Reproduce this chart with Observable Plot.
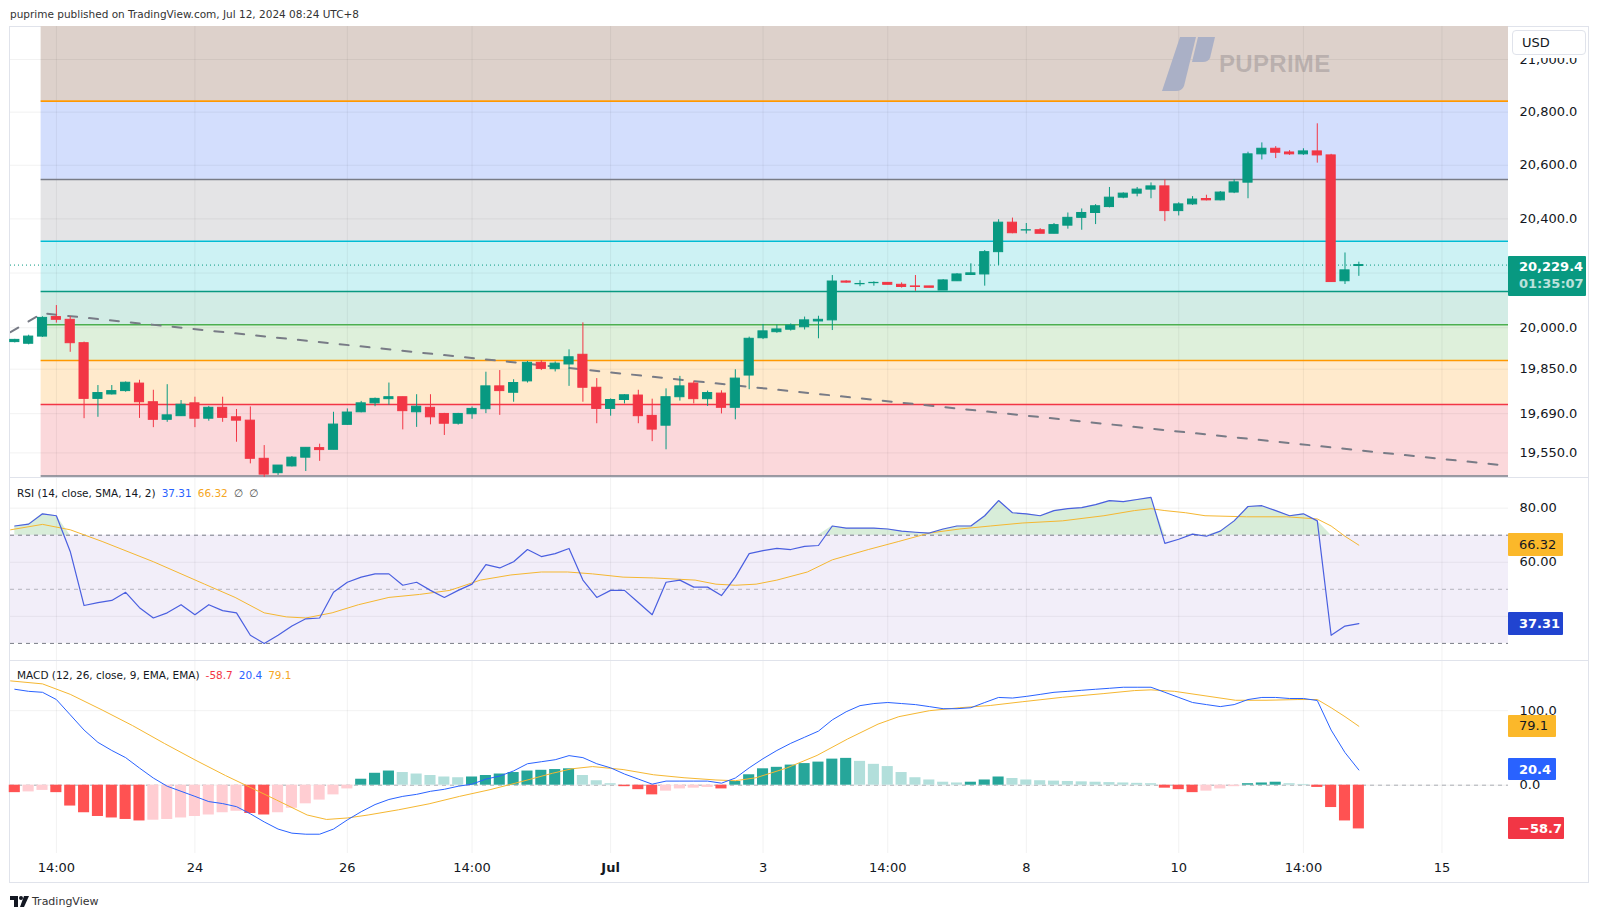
<!DOCTYPE html>
<html><head><meta charset="utf-8">
<script src="https://cdn.jsdelivr.net/npm/d3@7"></script>
<script src="https://cdn.jsdelivr.net/npm/@observablehq/plot@0.6"></script>
<style>
body{margin:0;background:#fff;}
#root{position:relative;width:1600px;height:919px;overflow:hidden;font-family:"DejaVu Sans",sans-serif;color:#131722;}
.abs{position:absolute;}
.box{position:absolute;box-sizing:border-box;font-size:13px;line-height:1;display:flex;flex-direction:column;justify-content:center;padding-left:11px;border-radius:1px;white-space:nowrap;}
.hdr{position:absolute;font-size:10.5px;white-space:nowrap;color:#131722;}
.hdr span{margin-right:6px;}
</style></head><body><div id="root"></div><script>
// ---------------- DATA ----------------
const opens  = [19948,19942,19968,20039,20029,19944,19743,19759,19771,19798,19731,19668,19681,19727,19672,19711,19677,19665,19529,19478,19502,19533,19567,19561,19650,19695,19727,19742,19749,19695,19711,19689,19654,19688,19706,19788,19765,19806,19873,19850,19867,19902,19783,19707,19739,19755,19682,19647,19749,19798,19742,19762,19711,19827,19962,19984,19993,20002,20023,20027,20169,20159,20163,20164,20157,20151,20151,20136,20170,20193,20195,20277,20386,20357,20358,20345,20375,20404,20422,20444,20479,20494,20509,20521,20429,20454,20474,20469,20498,20535,20641,20662,20648,20641,20652,20637,20170,20226];
const highs  = [19958,19973,20040,20081,20041,19948,19791,19791,19804,19810,19774,19794,19737,19749,19716,19749,19705,19714,19576,19505,19537,19568,19581,19695,19707,19734,19746,19800,19749,19758,19758,19691,19691,19714,19839,19845,19812,19878,19881,19876,19920,20018,19816,19743,19758,19774,19742,19779,19824,19807,19771,19772,19848,19966,20012,20010,20014,20039,20042,20191,20172,20172,20168,20165,20164,20191,20151,20176,20198,20234,20283,20397,20403,20383,20364,20383,20422,20437,20453,20517,20497,20517,20534,20545,20460,20483,20488,20502,20546,20649,20684,20670,20655,20662,20756,20641,20274,20240];
const lows   = [19945,19938,19965,20017,19911,19672,19677,19757,19767,19673,19640,19659,19680,19640,19663,19659,19588,19511,19463,19470,19500,19484,19520,19561,19648,19693,19715,19720,19632,19641,19650,19612,19649,19670,19690,19684,19731,19800,19845,19840,19788,19731,19654,19681,19725,19654,19590,19561,19735,19725,19716,19689,19668,19776,19957,19980,19988,19992,19960,19990,20163,20150,20152,20157,20145,20133,20146,20136,20169,20191,20152,20228,20345,20344,20345,20345,20362,20358,20379,20441,20475,20482,20475,20390,20411,20450,20467,20467,20494,20475,20620,20625,20637,20637,20608,20166,20158,20188];
const closes = [19956,19968,20036,20029,19944,19743,19764,19771,19801,19731,19668,19684,19722,19672,19711,19675,19665,19529,19473,19505,19533,19568,19560,19651,19694,19727,19743,19749,19699,19715,19677,19654,19689,19707,19788,19771,19800,19873,19851,19870,19893,19783,19707,19739,19756,19681,19633,19749,19788,19742,19764,19711,19816,19960,19987,19994,20008,20027,20029,20169,20165,20160,20164,20157,20149,20149,20146,20173,20195,20199,20277,20386,20347,20358,20345,20377,20404,20422,20447,20479,20494,20509,20521,20429,20454,20472,20469,20498,20536,20641,20662,20647,20641,20652,20637,20167,20210,20229.4];
const lastPrice = 20229.4;
const countdown = "01:35:07";

const fibLevels = [20841.6,20547,20317.5,20132.5,20011,19881.4,19723,19468];
const fibStart = 1.9;
const trendIdx = [-0.31,1.98,107.8];
const trendVal = [19984,20053,19504];

const rsi = [73.4,74.1,77.9,77.2,64.0,44.0,45.1,45.9,48.9,43.2,39.4,41.3,44.3,40.6,44.3,42.1,41.3,33.0,30.0,33.0,36.4,39.1,39.4,48.9,52.6,54.5,55.7,55.7,51.5,52.6,49.6,47.0,49.6,51.9,59.1,57.9,60.2,64.7,62.1,63.2,65.1,53.4,47.0,49.6,49.6,45.1,40.6,52.6,53.4,50.8,50.8,47.7,54.5,63.2,64.3,65.1,64.7,65.9,66.2,73.4,72.6,72.6,72.6,72.3,71.5,71.1,70.8,72.3,73.4,73.4,77.2,82.8,78.3,77.9,77.2,79.1,79.8,80.2,81.3,82.8,82.4,83.2,84.0,67.0,68.5,70.4,69.6,71.5,75.3,80.6,80.9,79.1,77.2,77.9,75.3,33.0,36.4,37.31];
const rsiSmaIdx = [-0.3,2,4,6.3,10,13.7,15.9,18,19.6,21,22.9,24.8,27,29.2,31.4,33.6,35.8,38,39.9,41.7,43.9,46.1,49.1,50.6,52,53.5,55,57.2,59,61.6,63.8,66,68.2,70.4,72.7,75.6,78.6,80.8,82,83,84.5,85.9,88.9,91.8,94,95,96,97];
const rsiSmaVal = [72,74,72,67.7,60.2,51.9,47,41.3,39.8,39.4,41.3,44.3,47,48.1,49.6,53.4,55.3,56.4,56.4,55.7,54.5,54.2,53.4,51.9,51.5,51.9,53.4,56.4,60.9,64.7,67.7,70.8,72.3,73.4,74.5,75.3,77.2,79.1,79.8,79.1,78.3,77.2,76.8,76.8,76,73.4,69.6,66.32];
const rsiLast = 37.31, rsiSmaLast = 66.32;

const macd = [128.8,126,124.7,115,94.5,74,57.5,46.6,37,23,9.6,-1.4,-8.2,-15,-22,-24.7,-28.8,-38.4,-49.3,-58.9,-64.4,-65.8,-65.8,-58.9,-46.6,-35.6,-26,-19.2,-15,-12.3,-8.2,-5.5,-1.4,1.4,8.2,12.3,19.2,28.8,31.5,34.2,39.7,37,28.8,23.3,15,8.2,1.4,5.5,5.5,5.5,5.5,2.7,9.6,23.3,35.6,46.6,56.2,64.4,72.6,87.7,98.6,106.8,109.6,111,109.6,108.2,105.5,102.7,102.7,104,111,117.8,117,119.2,121.9,124.7,126,127.4,128.8,130.1,131.5,131.5,131.5,124.7,117.8,111,108.2,105.5,108.2,115,117.8,117.8,116.4,116.4,113.7,74,43.8,20.4];
const sigIdx = [-0.3,2,4,6.3,8.5,10.8,13,15.2,17,18.9,21.1,22.5,24,25.5,27.7,29.9,32.1,34.3,36.6,38.8,40.2,41.7,43.9,46.1,48.3,50.6,52,53.5,55.7,57.9,60.1,62.3,63.8,66,68.2,70.4,72.7,75.6,78.6,80.8,82,83.7,85.9,88.1,90.3,92.6,94,95,96,97];
const sigVal = [140,136,122,101,80,56,34,13,-3,-20,-40,-46,-44,-40,-33,-25,-15,-6,5,16,22,25,21,14,10,7,6,10,23,40,62,82,92,100,104,107,112,118,123,127,128,126,120,114,114,115,115,104,92,79.1];
const hist = [-10,-9,-7,-10,-28,-37,-42,-44,-46,-48,-47,-46,-44,-42,-40,-37,-35,-38,-40,-37,-31,-25,-20,-13,-5,8,16,19,17,15,13,11,10,11,13,15,17,19,20,21,22,13,6,2,-2,-6,-13,-8,-5,-4,-3,-5,5,14,22,24,27,29,31,35,36,32,28,25,17,10,7,4,3,4,7,11,9,7,6,5.5,5,4.5,4,3.5,3,2.5,2,-4,-6,-10,-8,-5,-2,2,3,4,2,1,-3,-30,-48,-58.7];

const priceTicks = [21000,20800,20600,20400,20200,20000,19850,19690,19550];
const priceLabelTicks = [21000,20800,20600,20400,20000,19850,19690,19550];
const rsiTicks = [80,60,40];
const macdTicks = [100,0];
const xTickIdx = [3,13,24,33,43,54,63,73,84,93,103];
const xTickLabels = ["14:00","24","26","14:00","Jul","3","14:00","8","10","14:00","15"];

// ---------------- STYLE ----------------
const UP = "#089981", DOWN = "#f23645";
const bandFills = ["#ddd1cb","#d3defd","#e4e4e6","#cdf2f4","#d2ece5","#def0db","#ffeacc","#fbd8db"];
const fibStrokes = ["#ff9800","#787b86","#00bcd4","#089981","#4caf50","#ff9800","#f23645","#787b86"];
const RSI_C = "#4a5fe0", SMA_C = "#f5b731", MACD_C = "#2962ff", SIG_C = "#f5b731";
const GRID = {stroke:"#000", strokeOpacity:0.055};

const root = document.getElementById("root");
const N = closes.length;
const idx = d3.range(N);
const XD = [-0.31, 107.8];
const SVGW = 1578, MR = 80, LEFT = 10;
const common = {width: SVGW, marginLeft:0, marginRight:MR, marginTop:0, marginBottom:0,
  x:{type:"linear", domain:XD, axis:null}, color:{type:"identity"},
  style:{background:"transparent", overflow:"visible", fontFamily:"DejaVu Sans", fontSize:"13px", color:"#131722"}};
function place(el, top){ el.style.position="absolute"; el.style.left=LEFT+"px"; el.style.top=top+"px"; root.appendChild(el); return el; }
function div(cls, css, html){ const d=document.createElement("div"); d.className=cls; Object.assign(d.style, css); d.innerHTML=html; root.appendChild(d); return d; }

// frame
div("abs",{left:"9px",top:"26px",width:"1580px",height:"857px",border:"1px solid #e0e3eb",boxSizing:"border-box"},"");

// ---------------- MAIN PANE ----------------
const MT = 26, MH = 451;
const YMAX = 21126.6, YMIN = 19462.7;
const bandIdx = d3.range(fibLevels.length);
const colOf = i => closes[i] >= opens[i] ? UP : DOWN;
const main = Plot.plot({...common, height: MH,
  y:{type:"log", domain:[YMIN, YMAX], axis:null},
  marks:[
    Plot.rect(bandIdx, {x1:fibStart, x2:XD[1], y1:j=>fibLevels[j], y2:j=> j===0 ? YMAX : fibLevels[j-1], fill:j=>bandFills[j]}),
    Plot.gridY(priceTicks, GRID),
    Plot.gridX(xTickIdx, GRID),
    Plot.ruleY(bandIdx, {x1:fibStart, x2:XD[1], y:j=>fibLevels[j], stroke:j=>fibStrokes[j], strokeWidth:1.6}),
    Plot.line(trendIdx.map((d,i)=>i), {x:i=>trendIdx[i], y:i=>trendVal[i], stroke:"#787b86", strokeWidth:2, strokeDasharray:"9,12", clip:true}),
    Plot.ruleY([lastPrice], {stroke:UP, strokeDasharray:"1,3", strokeWidth:1}),
    Plot.ruleX(idx, {x:i=>i, y1:i=>lows[i], y2:i=>highs[i], stroke:colOf, strokeWidth:1}),
    Plot.rect(idx, {x1:i=>i-0.33, x2:i=>i+0.33, y1:i=>opens[i], y2:i=>closes[i], fill:colOf, stroke:colOf, strokeWidth:1}),
    Plot.axisY(priceLabelTicks, {anchor:"right", tickSize:0, tickPadding:11, tickFormat:d3.format(",.1f"), fontSize:13, label:null})
  ]});
place(main, MT);
const ym = main.scale("y");

// ---------------- RSI PANE ----------------
const RT = 477, RH = 183;
const rsiPlot = Plot.plot({...common, height: RH,
  y:{type:"linear", domain:[23.68, 91.33], axis:null},
  marks:[
    Plot.rect([0], {x1:XD[0], x2:XD[1], y1:30, y2:70, fill:"#7e57c2", fillOpacity:0.1}),
    Plot.gridY(rsiTicks, GRID),
    Plot.gridX(xTickIdx, GRID),
    Plot.areaY(idx, {x:i=>i, y1:70, y2:i=>Math.max(70, rsi[i]), fill:"#4caf50", fillOpacity:0.22}),
    Plot.ruleY([70,30], {stroke:"#787b86", strokeDasharray:"4,4"}),
    Plot.ruleY([50], {stroke:"#787b86", strokeOpacity:0.5, strokeDasharray:"4,4"}),
    Plot.line(rsiSmaIdx.map((d,i)=>i), {x:i=>rsiSmaIdx[i], y:i=>rsiSmaVal[i], stroke:SMA_C, strokeWidth:1}),
    Plot.line(idx, {x:i=>i, y:i=>rsi[i], stroke:RSI_C, strokeWidth:1.2}),
    Plot.axisY(rsiTicks, {anchor:"right", tickSize:0, tickPadding:11, tickFormat:d3.format(".2f"), fontSize:13, label:null})
  ]});
place(rsiPlot, RT);
const yr = rsiPlot.scale("y");

// ---------------- MACD PANE ----------------
const CT = 660, CH = 193;
const histCol = i => hist[i] >= 0 ? (i>0 && hist[i] < hist[i-1] ? "#b2dfdb" : "#26a69a") : (i>0 && hist[i] > hist[i-1] ? "#ffcdd2" : "#ff5252");
const macdPlot = Plot.plot({...common, height: CH,
  y:{type:"linear", domain:[-91.7, 167.4], axis:null},
  marks:[
    Plot.gridY(macdTicks, GRID),
    Plot.gridX(xTickIdx, GRID),
    Plot.ruleY([0], {stroke:"#787b86", strokeOpacity:0.6, strokeDasharray:"4,4"}),
    Plot.rect(idx, {x1:i=>i-0.4, x2:i=>i+0.4, y1:0, y2:i=>hist[i], fill:histCol}),
    Plot.line(sigIdx.map((d,i)=>i), {x:i=>sigIdx[i], y:i=>sigVal[i], stroke:SIG_C, strokeWidth:1}),
    Plot.line(idx, {x:i=>i, y:i=>macd[i], stroke:MACD_C, strokeWidth:1}),
    Plot.axisY(macdTicks, {anchor:"right", tickSize:0, tickPadding:11, tickFormat:d3.format(".1f"), fontSize:13, label:null})
  ]});
place(macdPlot, CT);
const yc = macdPlot.scale("y");

// ---------------- X AXIS ----------------
const XT = 853, XH = 30;
const xAxis = Plot.plot({...common, height: XH, y:{axis:null},
  marks:[
    Plot.text(xTickIdx, {x:d=>d, frameAnchor:"middle", dy:-1, text:(d,i)=>xTickLabels[i], fontSize:13, fill:"#131722",
      filter:(d,i)=>xTickLabels[i]!=="Jul"}),
    Plot.text(xTickIdx, {x:d=>d, frameAnchor:"middle", dy:-1, text:(d,i)=>xTickLabels[i], fontSize:13, fill:"#131722", fontWeight:"bold",
      filter:(d,i)=>xTickLabels[i]==="Jul"})
  ]});
place(xAxis, XT);

// separators
[477, 660].forEach(t => div("abs",{left:"10px",top:t+"px",width:"1578px",height:"1px",background:"#e0e3eb"},""));

// ---------------- LABEL BOXES ----------------
function box(left, width, cy, h, bg, color, html, bold){
  return div("box",{left:left+"px",width:width+"px",top:(cy-h/2)+"px",height:h+"px",background:bg,color:color,fontWeight:bold?"bold":"normal"},html);
}
// USD box (with white backing over the axis top)
div("abs",{left:"1509px",top:"27px",width:"79px",height:"31px",background:"#fff"},"");
div("abs",{left:"1512px",top:"30px",width:"74px",height:"25px",background:"#fff",border:"1px solid #e0e3eb",borderRadius:"4px",boxSizing:"border-box",fontSize:"13px",lineHeight:"23px",paddingLeft:"9px"},"USD");
// price box
const py = MT + ym.apply(lastPrice);
div("box",{left:"1508px",width:"78px",top:(py-8.6)+"px",height:"40px",background:UP,color:"#fff",justifyContent:"flex-start",paddingTop:"4px",gap:"4px",fontWeight:"bold"},
  `<div>${d3.format(",.1f")(lastPrice)}</div><div style="opacity:0.72">${countdown}</div>`);
// RSI boxes
box(1508, 55, RT + yr.apply(rsiSmaLast), 23, "#fbb82a", "#131722", rsiSmaLast.toFixed(2), false);
box(1508, 55, RT + yr.apply(rsiLast), 23, "#2144d0", "#fff", rsiLast.toFixed(2), true);
// MACD boxes
box(1508, 48, CT + yc.apply(sigVal[sigVal.length-1]), 22, "#fbb82a", "#131722", sigVal[sigVal.length-1].toFixed(1), false);
box(1508, 48, CT + yc.apply(macd[N-1]), 22, "#2962ff", "#fff", macd[N-1].toFixed(1), true);
box(1508, 56, CT + yc.apply(hist[N-1]), 22, "#f23645", "#fff", "\u2212" + Math.abs(hist[N-1]).toFixed(1), true);

// ---------------- HEADERS ----------------
div("hdr",{left:"10px",top:"8px",fontSize:"10.5px",color:"#333"},"puprime published on TradingView.com, Jul 12, 2024 08:24 UTC+8");
div("hdr",{left:"17px",top:"487px"},
  `<span>RSI (14, close, SMA, 14, 2)</span><span style="color:#2962ff">${rsiLast.toFixed(2)}</span><span style="color:#f5a623">${rsiSmaLast.toFixed(2)}</span><span style="color:#555">\u2205</span><span style="color:#555">\u2205</span>`);
div("hdr",{left:"17px",top:"669px"},
  `<span>MACD (12, 26, close, 9, EMA, EMA)</span><span style="color:#f23645">${hist[N-1].toFixed(1)}</span><span style="color:#2962ff">${macd[N-1].toFixed(1)}</span><span style="color:#f5a623">${sigVal[sigVal.length-1].toFixed(1)}</span>`);

// ---------------- WATERMARK ----------------
div("abs",{left:"1158px",top:"36px",width:"60px",height:"56px"},
  `<svg width="60" height="56" viewBox="0 0 60 56"><path d="M22 1 L38 1 L26 50 Q24 55 18 55 L4 55 Z" fill="#aab0c6"/><path d="M40 1 L57 1 L52 22 Q50 26 45 26 L34 26 Z" fill="#aab0c6"/></svg>`);
div("abs",{left:"1219px",top:"50px",fontFamily:"'Liberation Sans',sans-serif",fontWeight:"bold",fontSize:"24px",color:"rgba(120,115,120,0.35)",letterSpacing:"0.3px"},"PUPRIME");

// ---------------- FOOTER LOGO ----------------
div("abs",{left:"10px",top:"895px",display:"flex",alignItems:"center",gap:"3px",fontSize:"11px",color:"#333"},
  `<svg width="19" height="11" viewBox="0 0 19 11"><path d="M0 0H8V11H4V4H0Z" fill="#131722"/><circle cx="11" cy="2" r="2" fill="#131722"/><path d="M14 0H19L14 11H10Z" fill="#131722"/></svg><span>TradingView</span>`);
</script></body></html>
